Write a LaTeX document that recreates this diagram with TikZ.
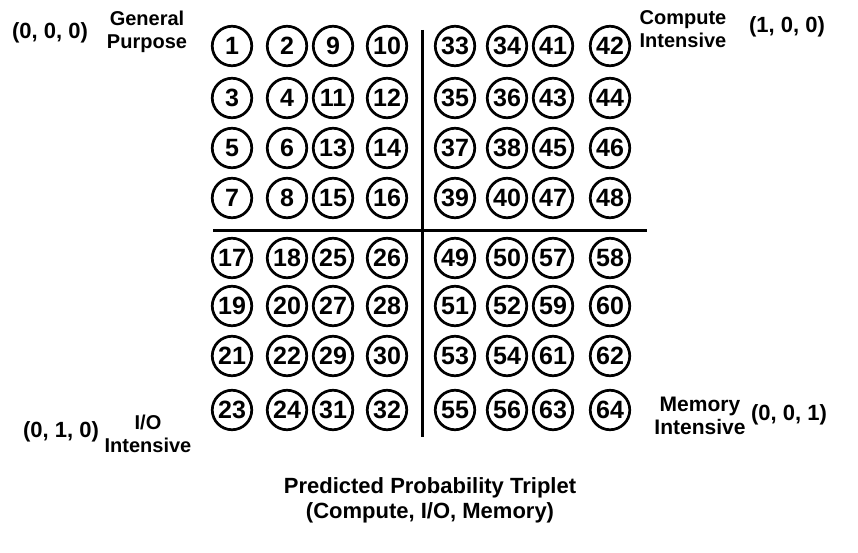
\documentclass[tikz,border=0pt]{standalone}
\usepackage{fontspec}
\setmainfont{Liberation Sans}
\begin{document}
\begin{tikzpicture}[x=1pt,y=-1pt,
  num/.style={circle,draw,line width=2.7pt,minimum size=39.5pt,inner sep=0pt,
    font=\fontsize{25}{25}\selectfont\bfseries},
  lbl/.style={align=center,font=\fontsize{20}{23}\selectfont\bfseries},
  coord/.style={font=\fontsize{22}{22}\selectfont\bfseries},
  axis/.style={line width=3pt}]
\useasboundingbox (0,0) rectangle (858,553);
\def\cols{{232,287,333,387,455,507,553,610}}
\def\rows{{46,98,148,198,258,306,356,410}}
\foreach \c in {0,...,7}{
  \foreach \r in {0,...,7}{
    \pgfmathtruncatemacro\q{(\c>3 ? 32 : 0) + (\r>3 ? 16 : 0)}
    \pgfmathtruncatemacro\cc{mod(\c,4)}
    \pgfmathtruncatemacro\rr{mod(\r,4)}
    \pgfmathtruncatemacro\n{\q + 1 + mod(\cc,2) + 2*\rr + 8*int(\cc/2)}
    \pgfmathsetmacro\xx{\cols[\c]}
    \pgfmathsetmacro\yy{\rows[\r]}
    \node[num] (n\n) at (\xx,\yy) {\n};
  }
}
\coordinate (vt) at (422,30);
\coordinate (vb) at (422,437);
\coordinate (hl) at (213,230);
\coordinate (hr) at (647,230);
\draw[axis] (vt) -- (vb);
\draw[axis] (hl) -- (hr);
\node[coord] (c000) at (50,33) {(0, 0, 0)};
\node[lbl] (gp) at (147,32) {General\\Purpose};
\node[lbl] (ci) at (683,29) {Compute\\Intensive};
\node[coord] (c100) at (787,27) {(1, 0, 0)};
\node[coord] (c010) at (61,432) {(0, 1, 0)};
\node[lbl] (io) at (148,434) {I/O\\Intensive};
\node[lbl,font=\fontsize{21}{23}\selectfont\bfseries] (mi) at (700,416) {Memory\\Intensive};
\node[coord] (c001) at (789,415) {(0, 0, 1)};
\node[lbl,font=\fontsize{22}{25}\selectfont\bfseries] (title) at (430,500) {Predicted Probability Triplet\\(Compute, I/O, Memory)};
\end{tikzpicture}
\end{document}
